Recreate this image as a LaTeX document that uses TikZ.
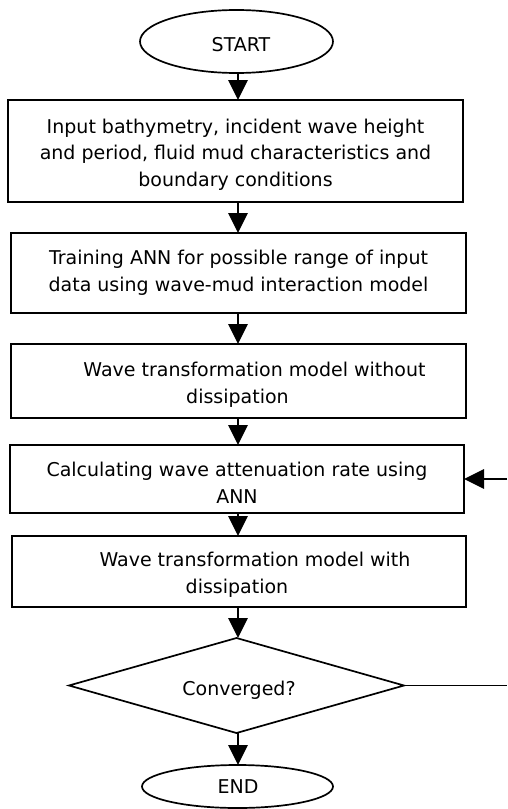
\documentclass[tikz,border=0pt]{standalone}
\usepackage{fontspec}
\setmainfont{DejaVu Sans}
\usetikzlibrary{shapes.geometric,arrows.meta}
\begin{document}
\begin{tikzpicture}[x=1pt,y=-1pt,
  every node/.style={inner sep=0pt,outer sep=0pt},
  shapeline/.style={draw=black,line width=1.7pt},
  stepbox/.style={shapeline,rectangle,minimum width=#1},
  term/.style={shapeline,ellipse},
  txt/.style={font=\fontsize{19}{26.5}\selectfont,align=center,text=black},
  arr/.style={line width=1.7pt,-{Triangle[length=20pt,width=19.5pt]}},
  plain/.style={line width=1.7pt}]
\useasboundingbox (0,0) rectangle (507,809);
\coordinate (axis) at (238,0);
\coordinate (redge) at (507,0);
% shapes
\node[term,minimum width=193pt,minimum height=63pt] (start) at (236.5,41.5) {};
\node[stepbox=455pt,minimum height=102pt] (b1) at (235.5,151) {};
\node[stepbox=455pt,minimum height=80pt] (b2) at (238.5,273) {};
\node[stepbox=455pt,minimum height=74pt] (b3) at (238.5,381) {};
\node[stepbox=454pt,minimum height=68pt] (b4) at (237,479) {};
\node[stepbox=454pt,minimum height=71pt] (b5) at (239,571.5) {};
\node[shapeline,diamond,minimum width=335pt,minimum height=95pt] (dec) at (236.5,685.5) {};
\node[term,minimum width=191pt,minimum height=43pt] (end) at (237.5,786.5) {};
% texts
\node[txt] (tstart) at (241,45) {START};
\node[txt] (t1) at (235.5,154.5) {Input bathymetry, incident wave height\\and period, fluid mud characteristics and\\boundary conditions};
\node[txt] (t2) at (238.5,272.7) {Training ANN for possible range of input\\data using wave-mud interaction model};
\node[txt] (t3) at (237.5,385) {\hspace*{34pt}Wave transformation model without\\dissipation};
\node[txt] (t4) at (237,482.8) {Calculating wave attenuation rate using\\ANN};
\node[txt] (t5) at (237,575) {\hspace*{36pt}Wave transformation model with\\dissipation};
\node[txt] (tdec) at (239,690) {Converged?};
\node[txt] (tend) at (238,787) {END};
% connectors
\draw[arr] (start.south -| axis) -- (b1.north -| axis);
\draw[arr] (b1.south -| axis) -- (b2.north -| axis);
\draw[arr] (b2.south -| axis) -- (b3.north -| axis);
\draw[arr] (b3.south -| axis) -- (b4.north -| axis);
\draw[arr] (b4.south -| axis) -- (b5.north -| axis);
\draw[arr] (b5.south -| axis) -- (dec.north -| axis);
\draw[arr] (dec.south -| axis) -- (end.north -| axis);
\coordinate (loopa) at (dec.east -| redge);
\coordinate (loopb) at (b4.east -| redge);
\draw[plain] (dec.east) -- (loopa);
\draw[arr] (loopb) -- (b4.east);
\end{tikzpicture}
\end{document}
